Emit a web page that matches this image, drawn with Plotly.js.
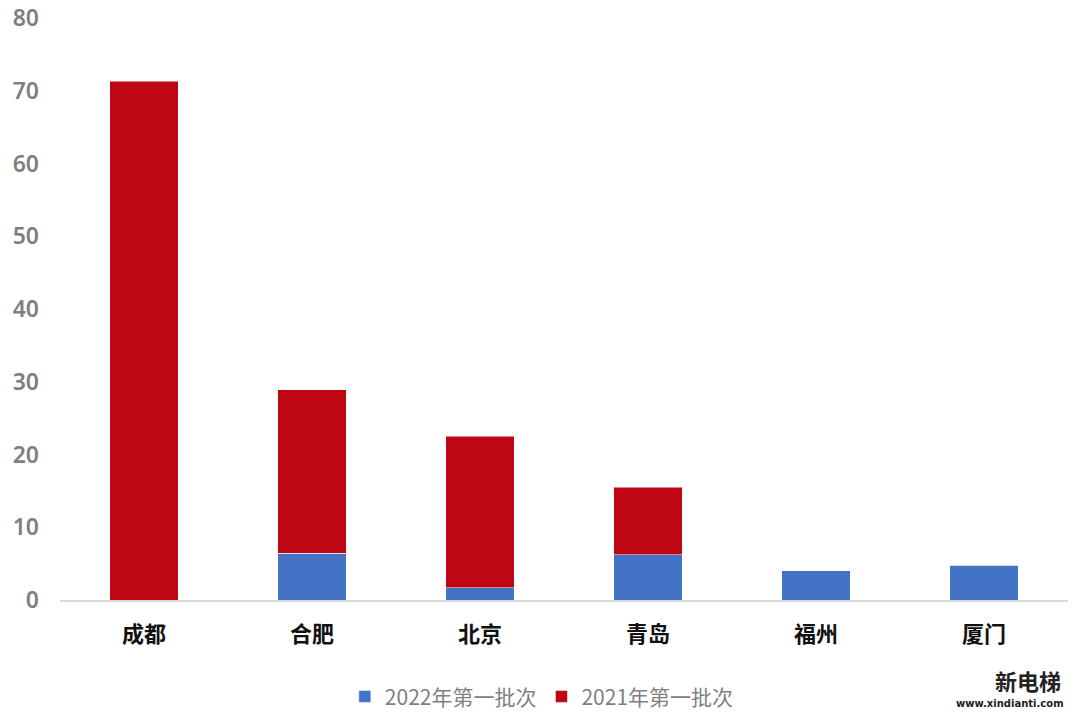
<!DOCTYPE html>
<html>
<head>
<meta charset="utf-8">
<script src="https://cdn.plot.ly/plotly-3.0.1.min.js"></script>
<style>html,body{margin:0;padding:0;background:#fff;}#chart{width:1080px;height:715px;}</style>
</head>
<body>
<div id="chart"></div>
<script>
const categories = ["成都", "合肥", "北京", "青岛", "福州", "厦门"];
const series2022Name = "2022年第一批次";
const series2021Name = "2021年第一批次";
const values2022 = [0, 6.4, 1.7, 6.2, 4.0, 4.8];
const values2021 = [71.3, 22.5, 20.8, 9.3, 0, 0];
const yTicks = [0, 10, 20, 30, 40, 50, 60, 70, 80];

const traces = [
  {
    type: "bar", name: series2022Name, x: categories, y: values2022,
    marker: {color: "#4472C4", line: {color: "rgba(255,255,255,0.5)", width: 1}},
    hoverinfo: "x+y+name"
  },
  {
    type: "bar", name: series2021Name, x: categories, y: values2021,
    marker: {color: "#BF0613", line: {color: "rgba(255,255,255,0.5)", width: 1}},
    hoverinfo: "x+y+name"
  }
];

const layout = {
  width: 1080, height: 715,
  margin: {l: 60, r: 12, t: 18, b: 115, autoexpand: false},
  paper_bgcolor: "#fff", plot_bgcolor: "#fff",
  barmode: "stack",
  bargap: 0.595,
  showlegend: true,
  legend: {
    orientation: "h", x: 0.478, xanchor: "center", y: -0.131, yanchor: "top",
    font: {family: "Noto Sans CJK SC, Noto Sans, sans-serif", size: 21, color: "#7f7f7f"},
    itemwidth: 30, traceorder: "normal"
  },
  xaxis: {
    type: "category",
    showline: true, linecolor: "#d9d9d9", linewidth: 2,
    showgrid: false, ticks: "",
    ticklabelstandoff: 14,
    tickfont: {family: "Noto Sans CJK SC, sans-serif", size: 22, color: "#111", weight: 700},
    fixedrange: true
  },
  yaxis: {
    range: [0, 80], tickvals: yTicks, ticktext: yTicks.map(String),
    showgrid: false, zeroline: false, showline: false, ticks: "",
    ticklabelstandoff: 20,
    tickfont: {family: "Noto Sans, sans-serif", size: 23, color: "#7f7f7f", weight: 600},
    fixedrange: true
  },
  annotations: [
    {xref: "paper", yref: "paper", x: 0.995, y: -0.137, xanchor: "right", yanchor: "middle",
     text: "<b>新电梯</b>", showarrow: false,
     font: {family: "Noto Sans CJK SC, sans-serif", size: 22, color: "#222"}},
    {xref: "paper", yref: "paper", x: 0.998, y: -0.177, xanchor: "right", yanchor: "middle",
     text: "<b>www.xindianti.com</b>", showarrow: false,
     font: {family: "DejaVu Sans, sans-serif", size: 10, color: "#222"}}
  ]
};

Plotly.newPlot("chart", traces, layout, {displayModeBar: false, staticPlot: true});
</script>
</body>
</html>
